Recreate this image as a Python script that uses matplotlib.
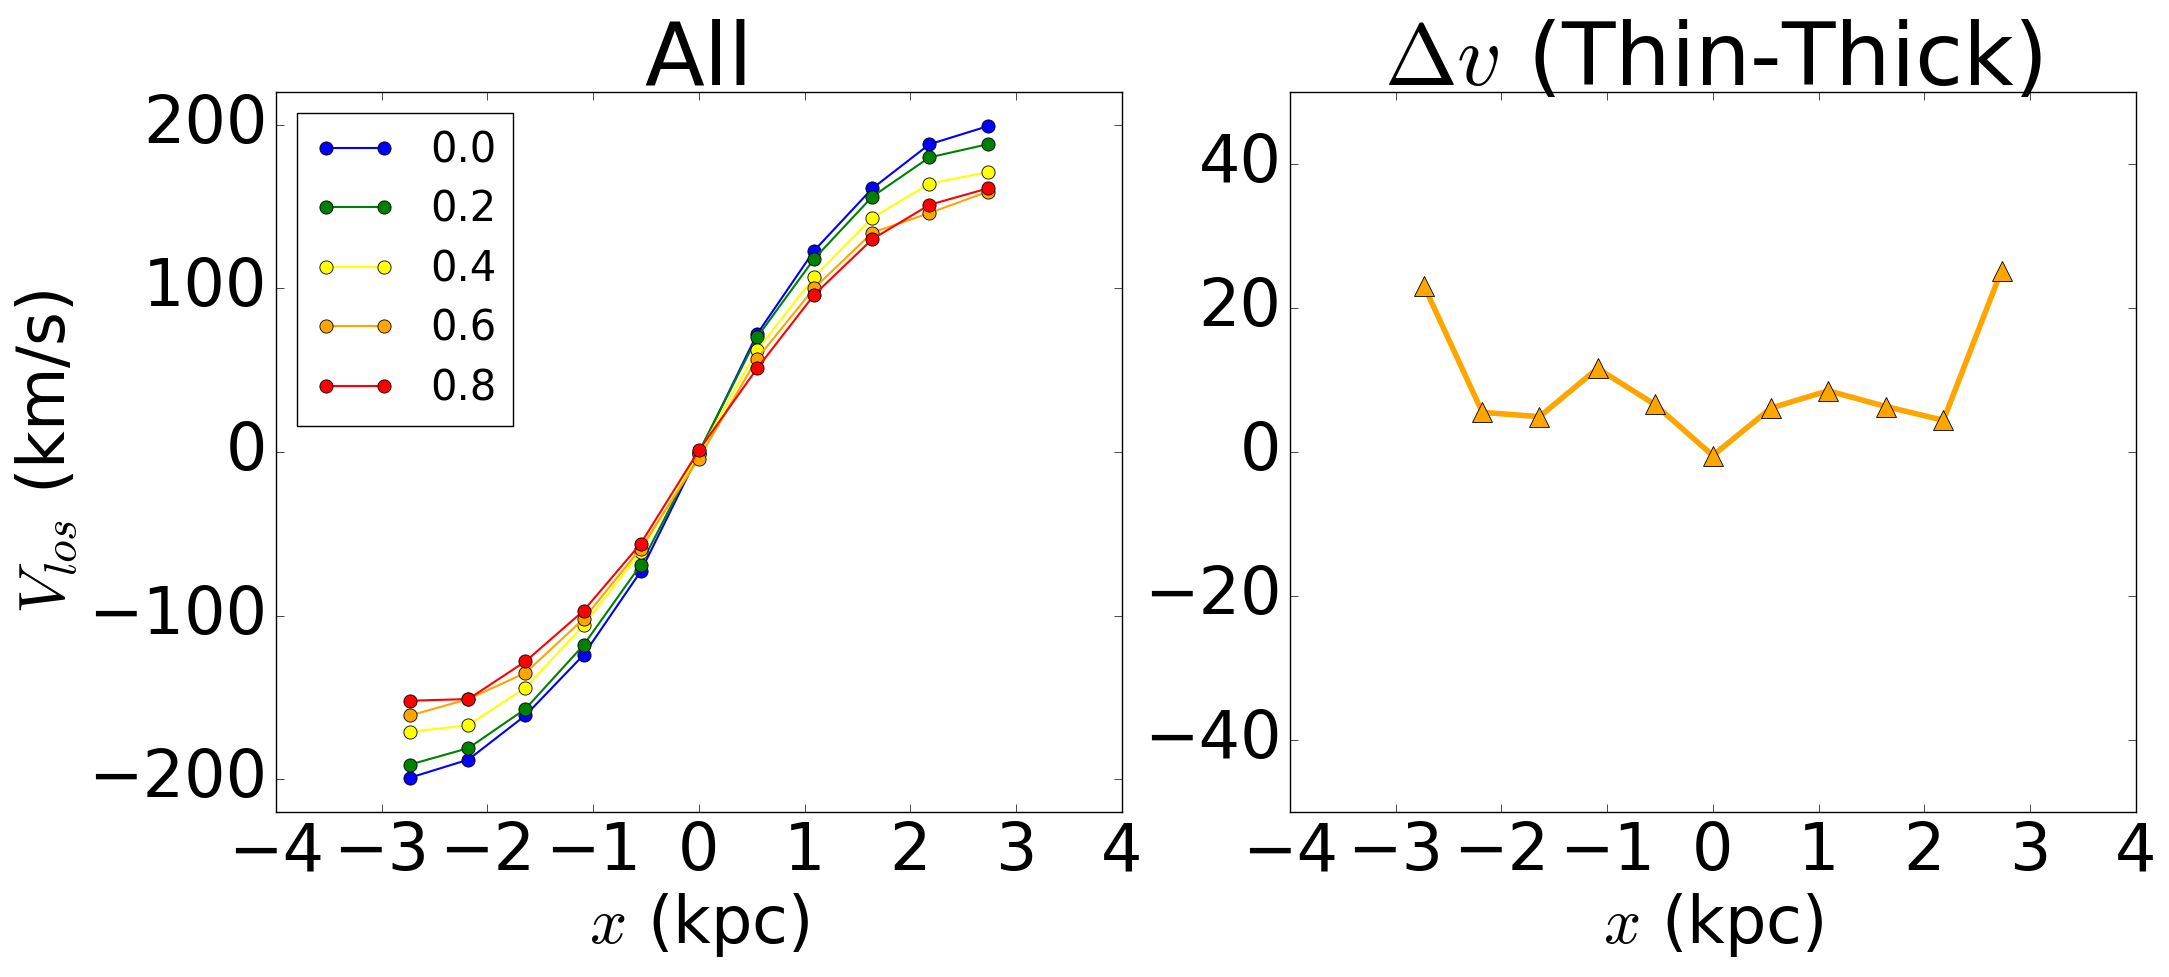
import matplotlib
matplotlib.use('Agg')
import matplotlib.pyplot as plt

plt.style.use('classic')
plt.rcParams['font.family'] = ['DejaVu Sans']
plt.rcParams['mathtext.fontset'] = 'cm'

# bin centres along the major axis (kpc)
x_kpc = [-2.73, -2.18, -1.64, -1.09, -0.55, 0.0, 0.55, 1.09, 1.64, 2.18, 2.73]

# line-of-sight velocity (km/s) per thick-disc fraction
v_00 = [-199, -188, -161, -124, -73, -1, 72, 123, 161, 188, 199]
v_02 = [-191, -181, -157, -118, -69, 0, 70, 118, 156, 180, 188]
v_04 = [-171, -167, -144, -106, -61, -1, 62, 107, 143, 164, 171]
v_06 = [-161, -151, -135, -102, -59, -4, 57, 100, 134, 146, 159]
v_08 = [-152, -151, -128, -97, -56, 1, 51, 96, 130, 151, 161]

fractions = ['0.0', '0.2', '0.4', '0.6', '0.8']
colors = ['blue', 'green', 'yellow', 'orange', 'red']

# velocity difference thin - thick (km/s)
dv = [23.0, 5.5, 4.9, 11.6, 6.6, -0.5, 6.1, 8.5, 6.3, 4.4, 25.2]

TICK_FS = 47
LABEL_FS = 47
TITLE_FS = 63

fig = plt.figure(figsize=(21.69, 9.77), dpi=100, facecolor='white')
ax1 = fig.add_axes([0.1272, 0.1689, 0.3900, 0.7370])
ax2 = fig.add_axes([0.5947, 0.1689, 0.3900, 0.7370])

for v, c, lab in zip([v_00, v_02, v_04, v_06, v_08], colors, fractions):
    ax1.plot(x_kpc, v, '-o', color=c, mfc=c, mec='k', mew=0.6,
             ms=9.5, lw=1.5, label=lab)

ax1.set_xlim(-4, 4)
ax1.set_ylim(-220, 220)
ax1.set_xticks(range(-4, 5))
ax1.set_yticks([-200, -100, 0, 100, 200])
ax1.legend(loc='upper left', fontsize=30, numpoints=2, labelspacing=0.42)
ax1.set_title('All', fontsize=TITLE_FS)
ax1.set_xlabel('$x$ (kpc)', fontsize=LABEL_FS)
ax1.set_ylabel('$V_{los}$ (km/s)', fontsize=LABEL_FS, labelpad=6)

ax2.plot(x_kpc, dv, '-^', color='orange', mfc='orange', mec='k', mew=0.6,
         ms=15, lw=4)
ax2.set_xlim(-4, 4)
ax2.set_ylim(-50, 50)
ax2.set_xticks(range(-4, 5))
ax2.set_yticks([-40, -20, 0, 20, 40])
ax2.set_title(r'$\Delta v$ (Thin-Thick)', fontsize=TITLE_FS)
ax2.set_xlabel('$x$ (kpc)', fontsize=LABEL_FS)

for ax in (ax1, ax2):
    ax.tick_params(which='major', labelsize=TICK_FS, length=6, pad=6)

fig.savefig('out.png', dpi=100, facecolor='white')
